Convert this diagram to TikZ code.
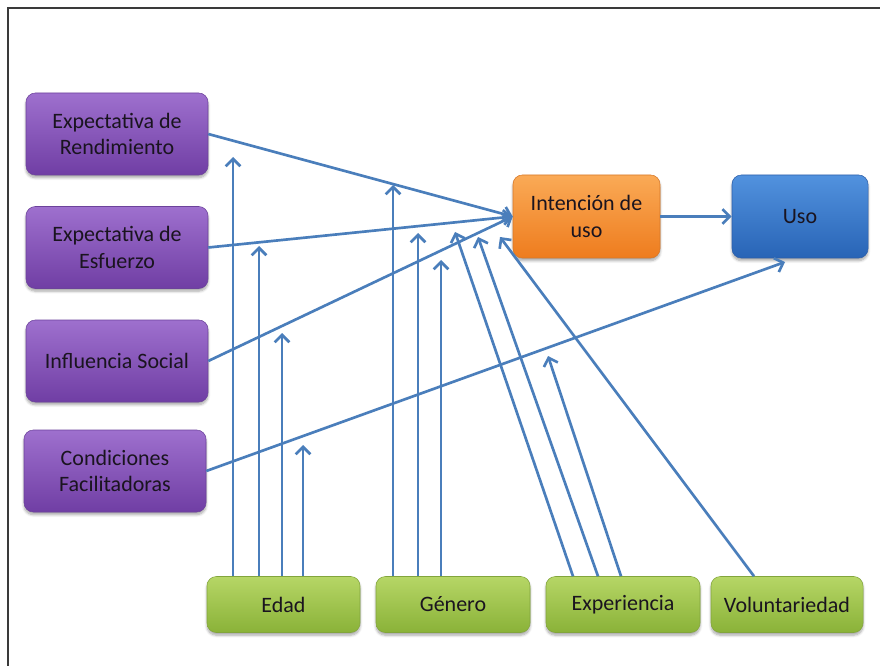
\documentclass[tikz,border=0pt]{standalone}
\usepackage{fontspec}
\setmainfont{Carlito}
\usetikzlibrary{arrows.meta,shadows.blur}

\definecolor{linkblue}{HTML}{4A7EBB}
\definecolor{frame}{HTML}{3A3A3A}
\definecolor{txt}{HTML}{1A141F}

\tikzset{
  box/.style={rounded corners=7pt, align=center, text=txt,
    font=\fontsize{16.5}{20}\selectfont, inner sep=0pt,
    blur shadow={shadow blur steps=6, shadow xshift=0pt, shadow yshift=-2pt, shadow opacity=35}},
  factor/.style={box, minimum width=182*0.75pt, minimum height=82*0.75pt,
    top color={rgb,255:red,158;green,112;blue,206},
    bottom color={rgb,255:red,112;green,62;blue,164},
    draw={rgb,255:red,108;green,66;blue,155}, line width=0.4pt},
  intent/.style={box, minimum width=147*0.75pt, minimum height=83*0.75pt,
    top color={rgb,255:red,250;green,170;blue,86},
    bottom color={rgb,255:red,238;green,124;blue,30},
    draw={rgb,255:red,215;green,120;blue,40}, line width=0.4pt},
  usebox/.style={box, minimum width=136*0.75pt, minimum height=83*0.75pt,
    top color={rgb,255:red,82;green,146;blue,222},
    bottom color={rgb,255:red,40;green,100;blue,182},
    draw={rgb,255:red,45;green,95;blue,170}, line width=0.4pt},
  moderator/.style={box, minimum height=56*0.75pt,
    top color={rgb,255:red,182;green,214;blue,102},
    bottom color={rgb,255:red,138;green,178;blue,56},
    draw={rgb,255:red,130;green,165;blue,60}, line width=0.4pt},
  arr/.style={draw=linkblue, line width=2pt,
    -{Straight Barb[length=5.5pt, width=11pt]}},
}

\begin{document}
\begin{tikzpicture}[x=0.75pt, y=-0.75pt]
  \useasboundingbox (0,0) rectangle (880,666);

  % page frame (top and left edges)
  \draw[frame, line width=1.6pt] (8,666) -- (8,8) -- (880,8);

  % determinants
  \node[factor] (rend) at (117,134)   {Expectativa de\\Rendimiento};
  \node[factor] (esf)  at (117,247.5) {Expectativa de\\Esfuerzo};
  \node[factor] (inf)  at (117,361)   {Influencia Social};
  \node[factor] (cond) at (115,471)   {Condiciones\\Facilitadoras};

  % intention and use
  \node[intent]  (int) at (586.5,216.5) {Intención de\\uso};
  \node[usebox]  (uso) at (800,216.5)   {Uso};

  % moderators
  \node[moderator, minimum width=153*0.75pt] (edad) at (283.5,604.5) {Edad};
  \node[moderator, minimum width=154*0.75pt] (gen)  at (453,604.5)   {Género};
  \node[moderator, minimum width=154*0.75pt] (exp)  at (623,604.5)   {Experiencia};
  \node[moderator, minimum width=152*0.75pt] (vol)  at (787,604.5)   {Voluntariedad};

  % moderator arrow tips
  \coordinate (e1) at (233,157);
  \coordinate (e2) at (259,246);
  \coordinate (e3) at (282,333);
  \coordinate (e4) at (303,445);
  \coordinate (g1) at (393,185);
  \coordinate (g2) at (418,233);
  \coordinate (g3) at (441,260);
  \coordinate (x1) at (455,232);
  \coordinate (x2) at (478,237);
  \coordinate (x3) at (548,356);
  \coordinate (v1) at (500,237);
  \coordinate (u1) at (785,262);

  % main paths
  \draw[arr] (rend.east) -- (int.west);
  \draw[arr] (esf.east)  -- (int.west);
  \draw[arr] (inf.east)  -- (int.west);
  \draw[arr] (cond.east) -- (u1);
  \draw[arr] (int.east)  -- (uso.west);

  % age
  \draw[arr] (e1 |- edad.north) -- (e1);
  \draw[arr] (e2 |- edad.north) -- (e2);
  \draw[arr] (e3 |- edad.north) -- (e3);
  \draw[arr] (e4 |- edad.north) -- (e4);

  % gender
  \draw[arr] (g1 |- gen.north) -- (g1);
  \draw[arr] (g2 |- gen.north) -- (g2);
  \draw[arr] (g3 |- gen.north) -- (g3);

  % experience
  \draw[arr] (exp.north) ++(-50,0) -- (x1);
  \draw[arr] (exp.north) ++(-25,0) -- (x2);
  \draw[arr] (exp.north) ++(-2,0)  -- (x3);

  % voluntariness
  \draw[arr] (vol.north) ++(-33,0) -- (v1);
\end{tikzpicture}
\end{document}
